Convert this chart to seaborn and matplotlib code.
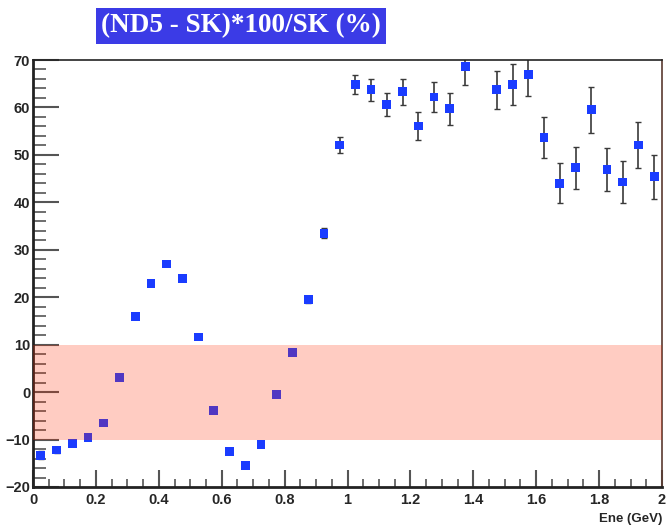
import matplotlib
matplotlib.use("Agg")
import matplotlib.pyplot as plt
import seaborn as sns
import numpy as np
import pandas as pd
from matplotlib.ticker import MultipleLocator

# Bin centres (GeV), values (%) and errors
energy = [0.025, 0.075, 0.125, 0.175, 0.225, 0.275, 0.325, 0.375, 0.425, 0.475,
          0.525, 0.575, 0.625, 0.675, 0.725, 0.775, 0.825, 0.875, 0.925, 0.975,
          1.025, 1.075, 1.125, 1.175, 1.225, 1.275, 1.325, 1.375,
          1.475, 1.525, 1.575, 1.625, 1.675, 1.725, 1.775, 1.825, 1.875, 1.925, 1.975]
diff = [-13.3, -12.2, -10.8, -9.6, -6.5, 3.1, 15.9, 22.9, 27.0, 23.9,
        11.6, -3.8, -12.6, -15.5, -11.0, -0.5, 8.4, 19.5, 33.5, 52.1,
        64.9, 63.7, 60.7, 63.3, 56.1, 62.2, 59.7, 68.6,
        63.7, 64.9, 67.0, 53.6, 44.0, 47.3, 59.5, 46.9, 44.3, 52.1, 45.4]
err = [0.8, 0.6, 0.5, 0.5, 0.4, 0.4, 0.4, 0.4, 0.4, 0.4,
       0.4, 0.4, 0.5, 0.5, 0.5, 0.6, 0.6, 0.8, 1.1, 1.6,
       2.0, 2.3, 2.4, 2.7, 2.9, 3.2, 3.4, 3.8,
       4.0, 4.3, 4.6, 4.3, 4.2, 4.4, 4.8, 4.5, 4.5, 4.9, 4.6]
band = [-10, 10]
xticks = [0, 0.2, 0.4, 0.6, 0.8, 1, 1.2, 1.4, 1.6, 1.8, 2]
xticklabels = ["0", "0.2", "0.4", "0.6", "0.8", "1", "1.2", "1.4", "1.6", "1.8", "2"]
yticks = [-20, -10, 0, 10, 20, 30, 40, 50, 60, 70]

df = pd.DataFrame({"energy": energy, "diff": diff, "err": err})

sns.set_style("white")
plt.rcParams["font.family"] = ["Liberation Sans", "DejaVu Sans"]

fig = plt.figure(figsize=(6.69, 5.29), dpi=100)
ax = fig.add_axes([33 / 669, 1 - 487 / 529, (662 - 33) / 669, (487 - 60) / 529])

ax.errorbar(df["energy"], df["diff"], yerr=df["err"], fmt="none",
            ecolor="#3a3a3a", elinewidth=1.2, capsize=2.5, capthick=1.0, zorder=2)
sns.scatterplot(data=df, x="energy", y="diff", marker="s", s=40, color="#1a3cff",
                edgecolor="none", linewidth=0, ax=ax, zorder=3, legend=False)
ax.axhspan(band[0], band[1], color="#ff2a00", alpha=0.24, linewidth=0, zorder=4)

ax.set_xlim(0, 2)
ax.set_ylim(-20, 70)
ax.set_xticks(xticks)
ax.set_xticklabels(xticklabels)
ax.set_yticks(yticks)
ax.xaxis.set_minor_locator(MultipleLocator(0.05))
ax.yaxis.set_minor_locator(MultipleLocator(2))
ax.tick_params(axis="both", which="both", left=True, bottom=True, top=False, right=False)
ax.tick_params(axis="y", which="major", direction="in", length=19, width=1.5,
               color="#555555", labelsize=10.5, pad=2)
ax.tick_params(axis="y", which="minor", direction="in", length=9, width=1.2, color="#555555")
ax.tick_params(axis="x", which="major", direction="in", length=12, width=1.5,
               color="#555555", labelsize=10.5, pad=4)
ax.tick_params(axis="x", which="minor", direction="in", length=6, width=1.2, color="#555555")
for lbl in ax.get_xticklabels() + ax.get_yticklabels():
    lbl.set_fontweight("bold")
for side in ["left", "bottom", "top", "right"]:
    ax.spines[side].set_visible(True)
    ax.spines[side].set_color("#222222")
ax.spines["left"].set_linewidth(2.0)
ax.spines["bottom"].set_linewidth(2.0)
ax.spines["top"].set_linewidth(1.2)
ax.spines["right"].set_linewidth(1.2)
ax.spines["right"].set_color("#5a3a30")
ax.set_xlabel("")
ax.set_ylabel("")

fig.text(662 / 669, 1 - 519 / 529, "Ene (GeV)", ha="right", va="center",
         fontsize=9.5, fontweight="bold")

fig.text(241 / 669, 1 - 26 / 529, "(ND5 - SK)*100/SK (%)", ha="center", va="center",
         fontsize=19.5, fontweight="bold", color="white",
         family=["Liberation Serif", "DejaVu Serif"],
         bbox=dict(boxstyle="square,pad=0.2", facecolor="#3b3be6", edgecolor="none"))

fig.savefig("out.png", dpi=100)
